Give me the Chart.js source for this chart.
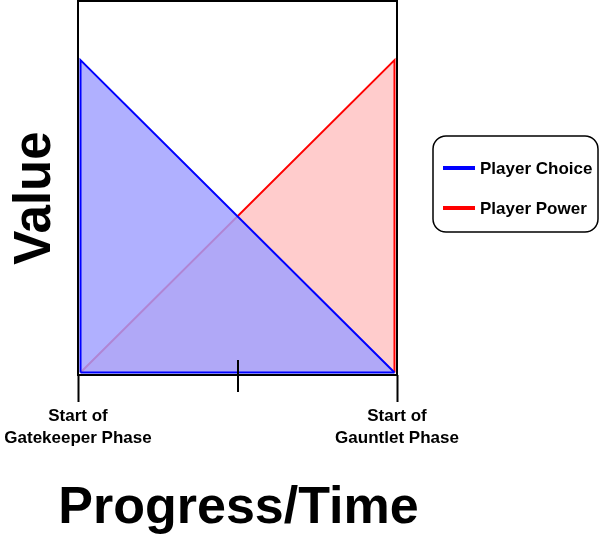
<!DOCTYPE html>
<html>
<head>
<meta charset="utf-8">
<script src="https://cdn.jsdelivr.net/npm/chart.js@4"></script>
<style>
  html, body { margin: 0; padding: 0; background: #fff; }
  #wrap { width: 600px; height: 539px; position: relative; }
</style>
</head>
<body>
<div id="wrap"><canvas id="phaseChart"></canvas></div>
<script>
// progress runs 0 (start of gatekeeper) -> 1 (start of gauntlet)
const choiceX = [0, 0, 1];
const choiceY = [0, 1, 0];
const powerX = [0, 1, 1];
const powerY = [0, 1, 0];
const baseX = [0, 1];
const baseY = [0, 0];

const xMin = -0.008, xMax = 1.008;
const tickValues = [xMin, 0.5, xMax];
const tickLabels = [['Start of', 'Gatekeeper Phase'], '', ['Start of', 'Gauntlet Phase']];
const xTitle = 'Progress/Time';
const yTitle = 'Value';

const pts = (xs, ys) => xs.map((x, i) => ({ x: x, y: ys[i] }));
const FONT = "'Liberation Sans', Arial, sans-serif";

// frame, middle tick, axis titles and boxed legend
const decorations = {
    id: 'decorations',
    afterDraw(chart) {
        const ctx = chart.ctx;
        const a = chart.chartArea;
        ctx.save();
        ctx.strokeStyle = '#000';
        ctx.lineWidth = 2;
        ctx.strokeRect(a.left, a.top, a.right - a.left, a.bottom - a.top);

        const mx = Math.round(chart.scales.x.getPixelForValue(0.5));
        ctx.beginPath();
        ctx.moveTo(mx, a.bottom - 15);
        ctx.lineTo(mx, a.bottom + 17);
        ctx.stroke();

        ctx.fillStyle = '#000';
        ctx.textAlign = 'center';
        ctx.textBaseline = 'middle';
        ctx.font = 'bold 52px ' + FONT;
        ctx.fillText(xTitle, (a.left + a.right) / 2 + 1, 509);

        ctx.font = 'bold 51px ' + FONT;
        ctx.translate(36, 198);
        ctx.rotate(-Math.PI / 2);
        ctx.fillText(yTitle, 0, 0);
        ctx.restore();

        // legend box
        ctx.save();
        ctx.lineWidth = 1.5;
        ctx.strokeStyle = '#000';
        ctx.beginPath();
        ctx.roundRect(433, 136, 165, 96, 13);
        ctx.stroke();
        ctx.font = 'bold 17px ' + FONT;
        ctx.textBaseline = 'middle';
        ctx.fillStyle = '#000';
        chart.data.datasets.filter(d => d.label).forEach((d, i) => {
            const y = 168 + i * 40;
            ctx.strokeStyle = d.borderColor;
            ctx.lineWidth = 4;
            ctx.beginPath();
            ctx.moveTo(443, y);
            ctx.lineTo(475, y);
            ctx.stroke();
            ctx.fillText(d.label, 480, y + 1);
        });
        ctx.restore();
    }
};

const phaseChart = new Chart(
    document.getElementById('phaseChart'),
    {
    type: 'line',
    plugins: [decorations],
    data: {
        datasets: [{
            label: '',
            data: pts(baseX, baseY),
            borderColor: '#0000ff',
            borderWidth: 2,
            fill: false
        }, {
            label: 'Player Choice',
            data: pts(choiceX, choiceY),
            borderColor: '#0000ff',
            backgroundColor: 'rgba(160,160,255,0.83)',
            borderWidth: 2,
            fill: 'origin'
        }, {
            label: 'Player Power',
            data: pts(powerX, powerY),
            borderColor: '#ff0000',
            backgroundColor: 'rgba(255,0,0,0.2)',
            borderWidth: 2,
            fill: 'origin'
        }]
    },
    options: {
        responsive: true,
        maintainAspectRatio: false,
        animation: false,
        layout: { padding: { top: 1, right: 203, left: 0, bottom: 0 } },
        elements: {
            point: { radius: 0, hoverRadius: 0 },
            line: { tension: 0 }
        },
        scales: {
            x: {
                type: 'linear',
                min: xMin,
                max: xMax,
                afterBuildTicks: axis => {
                    axis.ticks = tickValues.map(v => ({ value: v }));
                },
                afterFit: axis => { axis.height = 164; },
                grid: {
                    drawOnChartArea: false,
                    drawTicks: true,
                    tickLength: 27,
                    tickWidth: 2,
                    tickColor: c => c.index === 1 ? 'rgba(0,0,0,0)' : '#000'
                },
                border: { display: false },
                ticks: {
                    autoSkip: false,
                    maxRotation: 0,
                    padding: 3,
                    color: '#000',
                    font: { family: FONT, size: 17, weight: 'bold', lineHeight: 1.3 },
                    callback: (v, i) => tickLabels[i]
                }
            },
            y: {
                min: -0.008,
                max: 1.189,
                afterFit: axis => { axis.width = 78; },
                grid: { display: false },
                border: { display: false },
                ticks: { display: false }
            }
        },
        plugins: {
            legend: { display: false },
            tooltip: { enabled: false }
        }
    }
});
</script>
</body>
</html>
